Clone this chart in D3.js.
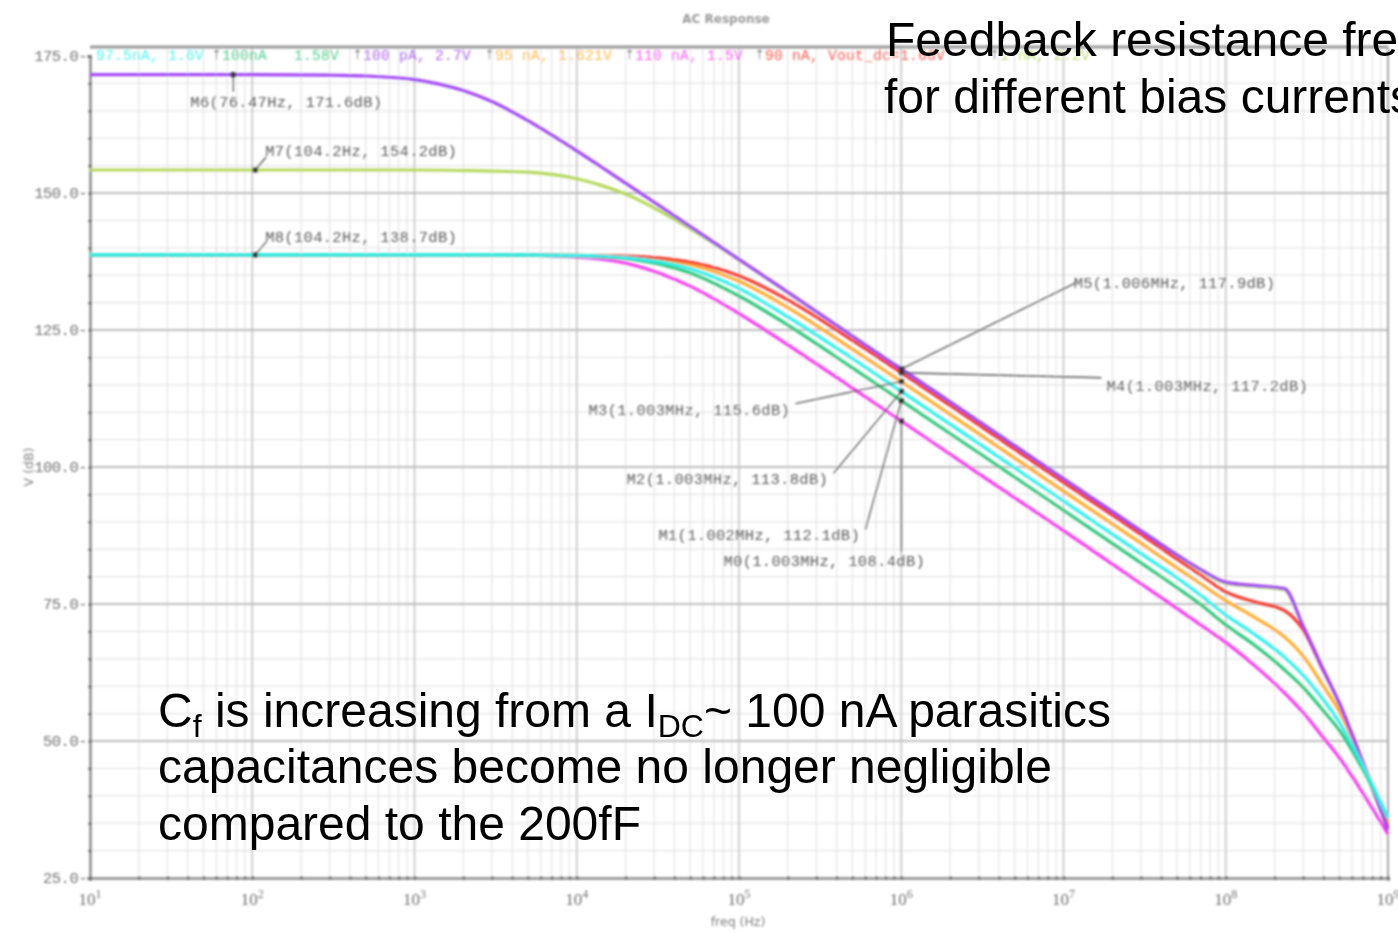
<!DOCTYPE html>
<html>
<head>
<meta charset="utf-8">
<script src="https://cdn.jsdelivr.net/npm/d3@7"></script>
<style>
  html, body { margin: 0; padding: 0; background: #fff; overflow: hidden; }
  svg { display: block; }
</style>
</head>
<body>
<svg id="chart" width="1398" height="933"></svg>
<script>
// Sweep frequencies (Hz) shared by every trace
const freqHz = [10, 100, 300, 500, 1e3, 2e3, 3e3, 5e3, 1e4, 2e4, 5e4, 1e5, 2e5, 5e5, 1e6, 3e6, 1e7, 3e7, 5e7, 7e7, 1e8, 1.5e8, 2.3e8, 3e8, 4e8, 5e8, 7e8, 1e9];

// Trace labels (bias current, output DC level) and their gains in dB
const seriesNames = ["97.5nA, 1.6V", "100nA\u00a0\u00a0\u00a01.58V", "100 pA, 2.7V", "95 nA, 1.621V", "110 nA, 1.5V", "90 nA, Vout_dc=1.66V", "1 nA, 2.2V"];
const gainCyan    = [138.7,138.7,138.7,138.7,138.7,138.7,138.7,138.7,138.6,138.2,136.2,132.6,127.4,119.8,113.8,104.3,93.8,84.2,79.8,76.6,73.0,69.5,65.3,62.0,57.5,53.5,45.5,36.0];
const gainGreen   = [138.7,138.7,138.7,138.7,138.7,138.7,138.7,138.65,138.5,138.0,135.4,131.2,125.9,118.1,112.1,102.6,92.1,82.5,78.0,74.9,71.2,67.5,63.0,59.8,55.5,52.0,44.8,36.0];
const gainPurple  = [171.6,171.6,171.5,171.35,170.7,168.7,166.7,163.2,157.7,151.8,143.9,137.9,131.9,123.9,117.9,108.4,97.9,88.4,84.0,81.3,79.0,78.4,77.8,71.0,63.0,57.0,46.0,33.8];
const gainOrange  = [138.7,138.7,138.7,138.7,138.7,138.7,138.7,138.7,138.6,138.4,136.9,133.9,129.1,121.5,115.6,106.1,95.6,86.1,81.6,78.7,75.6,72.6,69.0,65.5,60.0,55.5,46.0,35.0];
const gainMagenta = [138.7,138.7,138.7,138.7,138.7,138.7,138.66,138.6,138.3,137.2,133.0,128.0,122.3,114.4,108.4,98.8,88.4,78.7,74.2,71.2,68.0,63.8,58.8,55.2,50.6,47.0,40.5,33.0];
const gainRed     = [138.7,138.7,138.7,138.7,138.7,138.7,138.7,138.7,138.6,138.5,137.4,134.9,130.5,123.1,117.2,107.7,97.2,87.7,83.2,80.3,77.2,75.4,73.8,70.3,62.8,57.0,46.2,34.3];
const gainLime    = [154.2,154.2,154.2,154.2,154.2,154.1,154.0,153.8,152.6,149.8,143.5,137.8,131.8,123.9,117.9,108.3,97.8,88.3,83.9,81.2,78.8,78.2,77.6,70.8,62.8,56.8,45.8,33.7];

// Markers placed on the traces
const markerNames = ["M6", "M7", "M8", "M5", "M4", "M3", "M2", "M1", "M0"];
const markerFreq  = [76.47, 104.2, 104.2, 1.006e6, 1.003e6, 1.003e6, 1.003e6, 1.002e6, 1.003e6];
const markerDb    = [171.6, 154.2, 138.7, 117.9, 117.2, 115.6, 113.8, 112.1, 108.4];

// Axis ticks
const xTickExp = [1, 2, 3, 4, 5, 6, 7, 8, 9];
const yTicks = [25, 50, 75, 100, 125, 150, 175];

const colors = {
  cyan: "#2ef0ec", green: "#2ec77c", purple: "#a246f4", orange: "#ffad2e",
  magenta: "#f63cf0", red: "#f43a2e", lime: "#b6d85a"
};

const svg = d3.select("#chart");
const L = 90, R = 1388, T = 47, B = 878;

const x = d3.scaleLog().domain([10, 1e9]).range([L, R]);
const y = d3.scaleLinear().domain([25, 175]).range([B, 56]);

// soft look of the simulator screenshot
const defs = svg.append("defs");
defs.append("filter").attr("id", "soft").attr("x", "-5%").attr("y", "-5%").attr("width", "110%").attr("height", "110%")
  .append("feGaussianBlur").attr("stdDeviation", 0.8);

const plot = svg.append("g").attr("filter", "url(#soft)");

// minor grid
const minorX = [];
for (let e = 1; e < 9; e++) for (let m = 2; m <= 9; m++) minorX.push(m * Math.pow(10, e));
plot.append("g").selectAll("line").data(minorX).join("line")
  .attr("x1", d => x(d)).attr("x2", d => x(d)).attr("y1", T).attr("y2", B)
  .attr("stroke", "#e4e4e4").attr("stroke-width", 1.2);
const minorY = d3.range(25, 176, 5).filter(v => v % 25 !== 0);
plot.append("g").selectAll("line").data(minorY).join("line")
  .attr("x1", L).attr("x2", R).attr("y1", d => y(d)).attr("y2", d => y(d))
  .attr("stroke", "#e4e4e4").attr("stroke-width", 1.2);

// major grid
plot.append("g").selectAll("line").data(xTickExp.slice(1, -1)).join("line")
  .attr("x1", d => x(Math.pow(10, d))).attr("x2", d => x(Math.pow(10, d))).attr("y1", T).attr("y2", B)
  .attr("stroke", "#c4c4c4").attr("stroke-width", 1.6);
plot.append("g").selectAll("line").data(yTicks.slice(1, -1)).join("line")
  .attr("x1", L).attr("x2", R).attr("y1", d => y(d)).attr("y2", d => y(d))
  .attr("stroke", "#bdbdbd").attr("stroke-width", 1.8);

// frame
plot.append("line").attr("x1", L).attr("x2", R).attr("y1", T).attr("y2", T).attr("stroke", "#9a9a9a").attr("stroke-width", 3);
plot.append("line").attr("x1", R).attr("x2", R).attr("y1", T).attr("y2", B).attr("stroke", "#a8a8a8").attr("stroke-width", 2);

// axes
const xAxisG = plot.append("g").attr("transform", `translate(0,${B})`)
  .call(d3.axisBottom(x).tickValues(minorX.concat(xTickExp.map(e => Math.pow(10, e)))).tickSize(3).tickFormat(""));
xAxisG.select(".domain").attr("stroke", "#8a8a8a").attr("stroke-width", 2.5);
xAxisG.selectAll(".tick line").attr("stroke", "#555").attr("stroke-width", 2).attr("transform", "translate(0,-1.5)");

const yAxisG = plot.append("g").attr("transform", `translate(${L},0)`)
  .call(d3.axisLeft(y).tickValues(d3.range(25, 176, 5)).tickSize(3).tickFormat(""));
yAxisG.select(".domain").attr("stroke", "#8a8a8a").attr("stroke-width", 2.5);
yAxisG.selectAll(".tick line").attr("stroke", "#555").attr("stroke-width", 2).attr("transform", "translate(1.5,0)");

// y tick labels
plot.append("g").selectAll("text").data(yTicks).join("text")
  .attr("x", L - 3).attr("y", d => y(d)).attr("dy", "0.35em").attr("text-anchor", "end")
  .attr("font-family", "Liberation Mono, monospace").attr("font-size", 15.5).attr("fill", "#707070")
  .attr("letter-spacing", "-0.5")
  .text(d => d.toFixed(1) + "-");

// x tick labels 10^n
const xl = plot.append("g").selectAll("text").data(xTickExp).join("text")
  .attr("x", d => x(Math.pow(10, d))).attr("y", 905).attr("text-anchor", "middle")
  .attr("font-family", "Liberation Serif, serif").attr("font-size", 17).attr("fill", "#707070");
xl.append("tspan").text("10");
xl.append("tspan").attr("dy", -7).attr("font-size", 12).text(d => d);

// axis titles
plot.append("text").attr("x", 738).attr("y", 926).attr("text-anchor", "middle")
  .attr("font-family", "DejaVu Sans, sans-serif").attr("font-size", 12.5).attr("fill", "#808080").text("freq (Hz)");
plot.append("text").attr("transform", "translate(33,467) rotate(-90)").attr("text-anchor", "middle")
  .attr("font-family", "DejaVu Sans, sans-serif").attr("font-size", 12.5).attr("fill", "#808080").text("V (dB)");
plot.append("text").attr("x", 726).attr("y", 23).attr("text-anchor", "middle")
  .attr("font-family", "DejaVu Sans, sans-serif").attr("font-size", 12).attr("font-weight", "bold").attr("fill", "#999").text("AC Response");

// legend band along the top of the frame
const legendColors = [colors.cyan, colors.green, colors.purple, colors.orange, colors.magenta, colors.red, colors.lime];
const legendX = [96, 222, 363, 495, 635, 765, 1000];
const leg = plot.append("g").attr("font-family", "Liberation Mono, monospace").attr("font-size", 14.5).attr("letter-spacing", "0.3");
leg.selectAll("text.item").data(seriesNames).join("text").attr("class", "item")
  .attr("x", (d, i) => legendX[i]).attr("y", 60)
  .attr("fill", (d, i) => legendColors[i]).attr("opacity", 0.85).text(d => d);
leg.selectAll("text.sep").data(legendX.slice(1)).join("text").attr("class", "sep")
  .attr("x", d => d - 9).attr("y", 58).attr("fill", "#777").attr("font-size", 12).attr("letter-spacing", "0").text("†");

// traces
const line = d3.line().x(d => x(d[0])).y(d => y(d[1])).curve(d3.curveMonotoneX);
const traces = [
  { v: gainLime, c: colors.lime },
  { v: gainMagenta, c: colors.magenta },
  { v: gainOrange, c: colors.orange },
  { v: gainRed, c: colors.red },
  { v: gainPurple, c: colors.purple },
  { v: gainGreen, c: colors.green },
  { v: gainCyan, c: colors.cyan }
];
plot.append("g").selectAll("path").data(traces).join("path")
  .attr("d", t => line(freqHz.map((f, i) => [f, t.v[i]])))
  .attr("fill", "none").attr("stroke", t => t.c).attr("stroke-width", 3.2).attr("stroke-linejoin", "round");

// marker annotations: label offset and leader end relative to the marker point
const labelOffset = [[-43, 32], [10, -14], [10, -13], [172, -81], [205, 18], [-313, 33], [-275, 93], [-243, 139], [-178, 145]];
const leaderEnd   = [[0, 17], [11, -13], [11, -13], [174, -86], [200, 5], [-106, 22], [-68, 82], [-36, 129], [0, 131]];
const fmtFreq = f => f >= 1e6 ? (f / 1e6).toFixed(3) + "MHz" : (f < 100 ? f.toFixed(2) : f.toFixed(1)) + "Hz";
const mk = plot.append("g");
markerNames.forEach((name, i) => {
  const px = x(markerFreq[i]), py = y(markerDb[i]);
  mk.append("line").attr("x1", px).attr("y1", py)
    .attr("x2", px + leaderEnd[i][0]).attr("y2", py + leaderEnd[i][1])
    .attr("stroke", "#555").attr("stroke-width", 1.3);
  mk.append("rect").attr("x", px - 2.5).attr("y", py - 2.5).attr("width", 5).attr("height", 5).attr("fill", "#333");
  mk.append("text").attr("x", px + labelOffset[i][0]).attr("y", py + labelOffset[i][1])
    .attr("font-family", "Liberation Mono, monospace").attr("font-size", 15.5).attr("fill", "#5a5a5a")
    .attr("letter-spacing", "0.3")
    .text(`${name}(${fmtFreq(markerFreq[i])}, ${markerDb[i].toFixed(1)}dB)`);
});

// slide annotations
const note = svg.append("g").attr("font-family", "Liberation Sans, Arial, sans-serif").attr("fill", "#000");
note.append("text").attr("x", 886).attr("y", 56).attr("font-size", 48).text("Feedback resistance frequency response");
note.append("text").attr("x", 884).attr("y", 113).attr("font-size", 48).text("for different bias currents");

const t1 = note.append("text").attr("x", 158).attr("y", 727).attr("font-size", 48);
t1.append("tspan").text("C");
t1.append("tspan").attr("dy", 10).attr("font-size", 32).text("f");
t1.append("tspan").attr("dy", -10).text(" is increasing from a I");
t1.append("tspan").attr("dy", 10).attr("font-size", 32).text("DC");
t1.append("tspan").attr("dy", -10).text("~ 100 nA parasitics");
note.append("text").attr("x", 158).attr("y", 783).attr("font-size", 48).text("capacitances become no longer negligible");
note.append("text").attr("x", 158).attr("y", 840).attr("font-size", 48).text("compared to the 200fF");
</script>
</body>
</html>
